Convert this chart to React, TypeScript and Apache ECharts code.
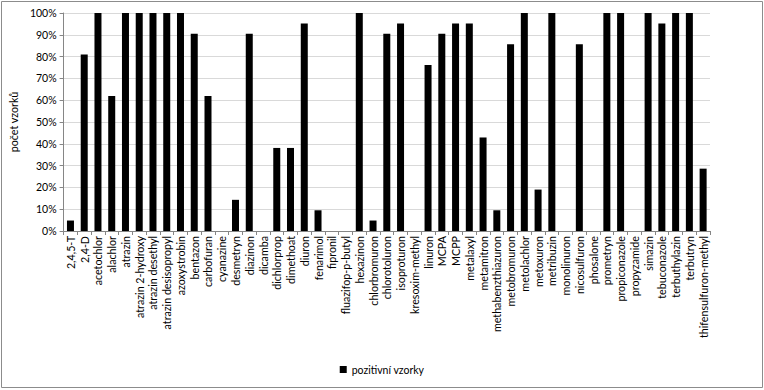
import React, { useEffect, useRef } from "react";
import * as echarts from "echarts";

const categories = [
  "2,4,5-T", "2,4-D", "acetochlor", "alachlor", "atrazin", "atrazin 2-hydroxy",
  "atrazin desethyl", "atrazin desisopropyl", "azoxystrobin", "bentazon", "carbofuran",
  "cyanazine", "desmetryn", "diazinon", "dicamba", "dichlorprop", "dimethoat", "diuron",
  "fenarimol", "fipronil", "fluazifop-p-butyl", "hexazinon", "chlorbromuron",
  "chlorotoluron", "isoproturon", "kresoxim-methyl", "linuron", "MCPA", "MCPP",
  "metalaxyl", "metamitron", "methabenzthiazuron", "metobromuron", "metolachlor",
  "metoxuron", "metribuzin", "monolinuron", "nicosulfuron", "phosalone", "prometryn",
  "propiconazole", "propyzamide", "simazin", "tebuconazole", "terbuthylazin",
  "terbutryn", "thifensulfuron-methyl",
];

const positiveSamples = [
  4.8, 81, 100, 61.9, 100, 100,
  100, 100, 100, 90.5, 61.9,
  0, 14.3, 90.5, 0, 38.1, 38.1, 95.2,
  9.5, 0, 0, 100, 4.8,
  90.5, 95.2, 0, 76.2, 90.5, 95.2,
  95.2, 42.9, 9.5, 85.7, 100,
  19, 100, 0, 85.7, 0, 100,
  100, 0, 100, 95.2, 100,
  100, 28.6,
];

const seriesName = "pozitivní vzorky";
const yAxisName = "počet vzorků";

export default function App() {
  const ref = useRef<HTMLDivElement>(null);
  useEffect(() => {
    const chart = echarts.init(ref.current!, null, { renderer: "svg" });
    const font = "Lato, 'Open Sans', sans-serif";
    chart.setOption({
      animation: false,
      textStyle: { fontFamily: font },
      graphic: [
        {
          type: "rect",
          shape: { x: 1.5, y: 1.5, width: 761, height: 386 },
          style: { fill: "none", stroke: "#8c8c8c", lineWidth: 1 },
          silent: true,
        },
      ],
      grid: { left: 53, right: 54, top: 13, bottom: 159, containLabel: false },
      legend: {
        data: [{ name: seriesName, icon: "rect" }],
        bottom: 10,
        left: "center",
        itemWidth: 7,
        itemHeight: 7,
        itemGap: 4,
        textStyle: { fontSize: 10.5, color: "#000", fontFamily: font },
      },
      xAxis: {
        type: "category",
        data: categories,
        axisLine: { lineStyle: { color: "#868686" } },
        axisTick: { show: true, length: 4, lineStyle: { color: "#868686" } },
        axisLabel: {
          rotate: 90,
          interval: 0,
          fontSize: 10.7,
          color: "#000",
          margin: 5,
          fontFamily: font,
        },
      },
      yAxis: {
        type: "value",
        min: 0,
        max: 100,
        interval: 10,
        name: yAxisName,
        nameLocation: "middle",
        nameGap: 39,
        nameRotate: 90,
        nameTextStyle: { fontSize: 10.7, color: "#000", fontFamily: font },
        axisLine: { show: true, lineStyle: { color: "#868686" } },
        axisTick: { show: true, length: 4, lineStyle: { color: "#868686" } },
        axisLabel: {
          formatter: "{value}%",
          fontSize: 10.5,
          color: "#000",
          margin: 7,
          fontFamily: font,
        },
        splitLine: { lineStyle: { color: "#d9d9d9", width: 1 } },
      },
      series: [
        {
          name: seriesName,
          type: "bar",
          data: positiveSamples,
          barWidth: 7,
          itemStyle: { color: "#000" },
        },
      ],
    });
    return () => chart.dispose();
  }, []);
  return <div ref={ref} style={{ width: 764, height: 390, position: "absolute", left: 0, top: 0, background: "#fff" }} />;
}
